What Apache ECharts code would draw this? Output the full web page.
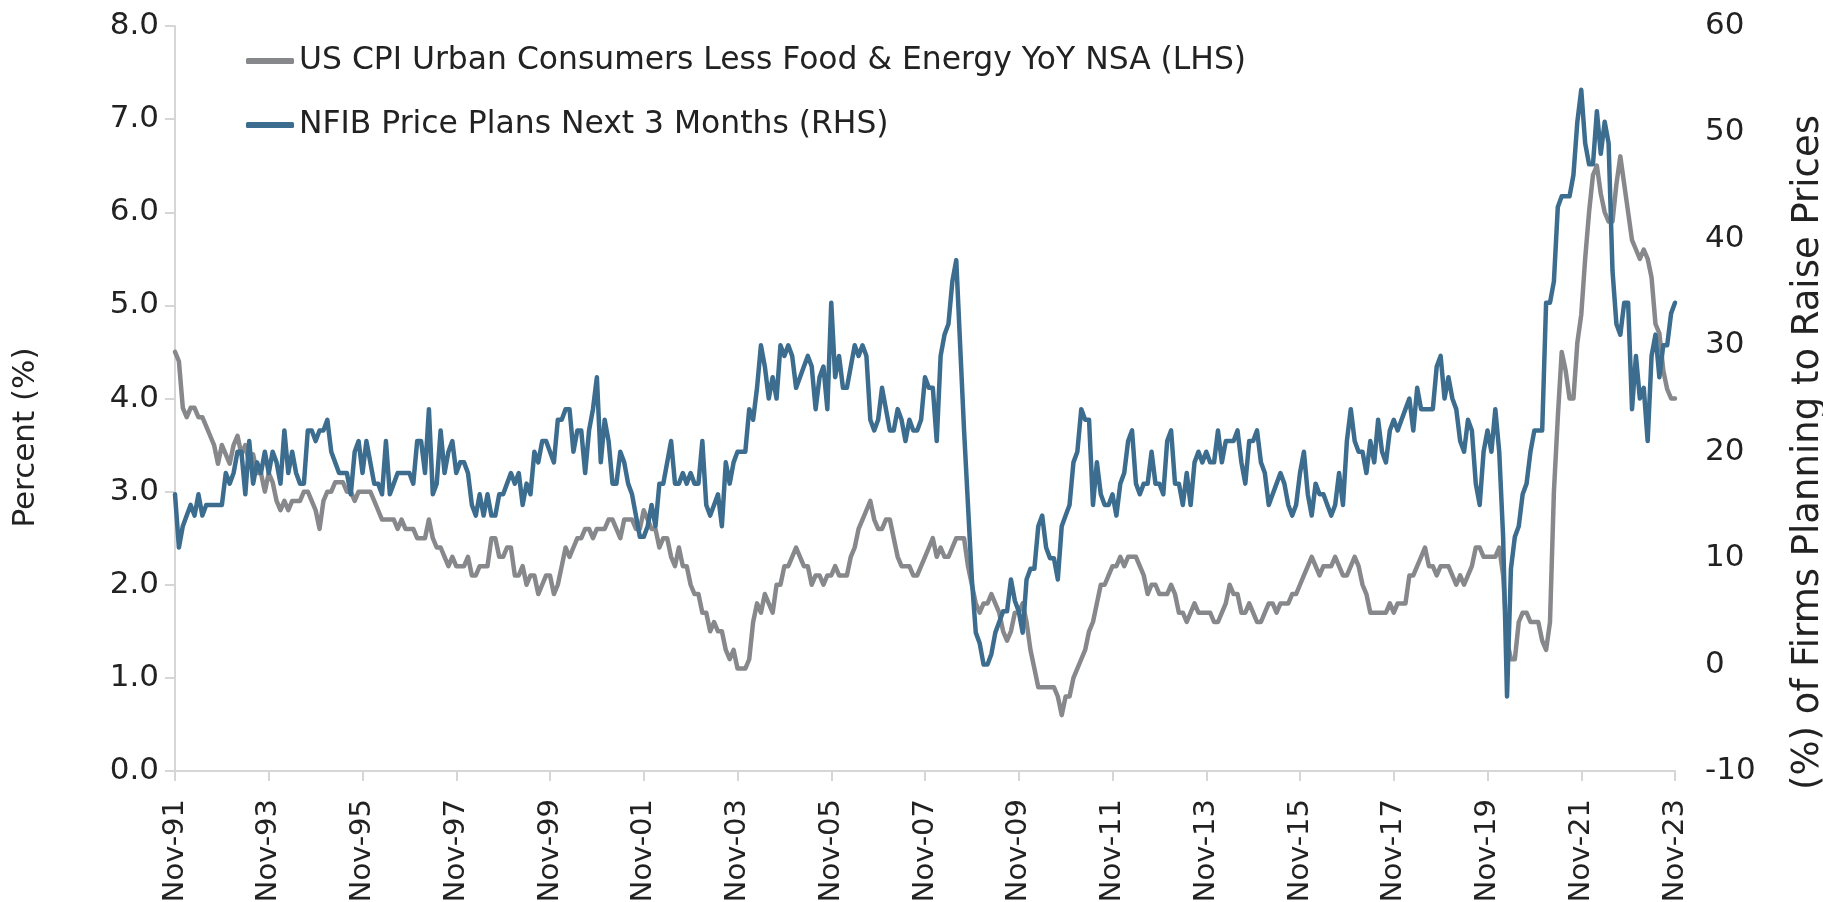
<!DOCTYPE html>
<html>
<head>
<meta charset="utf-8">
<script src="https://cdn.jsdelivr.net/npm/echarts@6/dist/echarts.min.js"></script>
<style>
html, body { margin: 0; padding: 0; background: #fff; }
#main { width: 1823px; height: 902px; }
</style>
</head>
<body>
<div id="main"></div>
<script>
// monthly, Nov-91 .. Nov-23
var cpiName = 'US CPI Urban Consumers Less Food & Energy YoY NSA (LHS)';
var nfibName = 'NFIB Price Plans Next 3 Months (RHS)';

// core CPI YoY %, Nov-91, Dec-91 then calendar years
var cpiCore = [
    4.5, 4.4,
    3.9, 3.8, 3.9, 3.9, 3.8, 3.8, 3.7, 3.6, 3.5, 3.3, 3.5, 3.4,
    3.3, 3.5, 3.6, 3.4, 3.5, 3.3, 3.4, 3.2, 3.2, 3.0, 3.2, 3.1,
    2.9, 2.8, 2.9, 2.8, 2.9, 2.9, 2.9, 3.0, 3.0, 2.9, 2.8, 2.6,
    2.9, 3.0, 3.0, 3.1, 3.1, 3.1, 3.0, 3.0, 2.9, 3.0, 3.0, 3.0,
    3.0, 2.9, 2.8, 2.7, 2.7, 2.7, 2.7, 2.6, 2.7, 2.6, 2.6, 2.6,
    2.5, 2.5, 2.5, 2.7, 2.5, 2.4, 2.4, 2.3, 2.2, 2.3, 2.2, 2.2,
    2.2, 2.3, 2.1, 2.1, 2.2, 2.2, 2.2, 2.5, 2.5, 2.3, 2.3, 2.4,
    2.4, 2.1, 2.1, 2.2, 2.0, 2.1, 2.1, 1.9, 2.0, 2.1, 2.1, 1.9,
    2.0, 2.2, 2.4, 2.3, 2.4, 2.5, 2.5, 2.6, 2.6, 2.5, 2.6, 2.6,
    2.6, 2.7, 2.7, 2.6, 2.5, 2.7, 2.7, 2.7, 2.6, 2.6, 2.8, 2.7,
    2.6, 2.6, 2.4, 2.5, 2.5, 2.3, 2.2, 2.4, 2.2, 2.2, 2.0, 1.9,
    1.9, 1.7, 1.7, 1.5, 1.6, 1.5, 1.5, 1.3, 1.2, 1.3, 1.1, 1.1,
    1.1, 1.2, 1.6, 1.8, 1.7, 1.9, 1.8, 1.7, 2.0, 2.0, 2.2, 2.2,
    2.3, 2.4, 2.3, 2.2, 2.2, 2.0, 2.1, 2.1, 2.0, 2.1, 2.1, 2.2,
    2.1, 2.1, 2.1, 2.3, 2.4, 2.6, 2.7, 2.8, 2.9, 2.7, 2.6, 2.6,
    2.7, 2.7, 2.5, 2.3, 2.2, 2.2, 2.2, 2.1, 2.1, 2.2, 2.3, 2.4,
    2.5, 2.3, 2.4, 2.3, 2.3, 2.4, 2.5, 2.5, 2.5, 2.2, 2.0, 1.8,
    1.7, 1.8, 1.8, 1.9, 1.8, 1.7, 1.5, 1.4, 1.5, 1.7, 1.7, 1.8,
    1.6, 1.3, 1.1, 0.9, 0.9, 0.9, 0.9, 0.9, 0.8, 0.6, 0.8, 0.8,
    1.0, 1.1, 1.2, 1.3, 1.5, 1.6, 1.8, 2.0, 2.0, 2.1, 2.2, 2.2,
    2.3, 2.2, 2.3, 2.3, 2.3, 2.2, 2.1, 1.9, 2.0, 2.0, 1.9, 1.9,
    1.9, 2.0, 1.9, 1.7, 1.7, 1.6, 1.7, 1.8, 1.7, 1.7, 1.7, 1.7,
    1.6, 1.6, 1.7, 1.8, 2.0, 1.9, 1.9, 1.7, 1.7, 1.8, 1.7, 1.6,
    1.6, 1.7, 1.8, 1.8, 1.7, 1.8, 1.8, 1.8, 1.9, 1.9, 2.0, 2.1,
    2.2, 2.3, 2.2, 2.1, 2.2, 2.2, 2.2, 2.3, 2.2, 2.1, 2.1, 2.2,
    2.3, 2.2, 2.0, 1.9, 1.7, 1.7, 1.7, 1.7, 1.7, 1.8, 1.7, 1.8,
    1.8, 1.8, 2.1, 2.1, 2.2, 2.3, 2.4, 2.2, 2.2, 2.1, 2.2, 2.2,
    2.2, 2.1, 2.0, 2.1, 2.0, 2.1, 2.2, 2.4, 2.4, 2.3, 2.3, 2.3,
    2.3, 2.4, 2.1, 1.4, 1.2, 1.2, 1.6, 1.7, 1.7, 1.6, 1.6, 1.6,
    1.4, 1.3, 1.6, 3.0, 3.8, 4.5, 4.3, 4.0, 4.0, 4.6, 4.9, 5.5,
    6.0, 6.4, 6.5, 6.2, 6.0, 5.9, 5.9, 6.3, 6.6, 6.3, 6.0, 5.7,
    5.6, 5.5, 5.6, 5.5, 5.3, 4.8, 4.7, 4.3, 4.1, 4.0, 4.0
];

// net % of firms planning to raise prices, 12 per row from Nov-91
var nfibPlans = [
    16, 11, 13, 14, 15, 14, 16, 14, 15, 15, 15, 15,
    15, 18, 17, 18, 20, 20, 16, 21, 17, 19, 18, 20,
    18, 20, 19, 17, 22, 18, 20, 18, 17, 17, 22, 22,
    21, 22, 22, 23, 20, 19, 18, 18, 18, 16, 20, 21,
    18, 21, 19, 17, 17, 16, 21, 16, 17, 18, 18, 18,
    18, 17, 21, 21, 18, 24, 16, 17, 22, 18, 20, 21,
    18, 19, 19, 18, 15, 14, 16, 14, 16, 14, 14, 16,
    16, 17, 18, 17, 18, 15, 17, 16, 20, 19, 21, 21,
    20, 19, 23, 23, 24, 24, 20, 22, 22, 18, 22, 24,
    27, 19, 23, 21, 17, 17, 20, 19, 17, 16, 14, 12,
    12, 13, 15, 13, 17, 17, 19, 21, 17, 17, 18, 17,
    18, 17, 17, 21, 15, 14, 15, 16, 13, 19, 17, 19,
    20, 20, 20, 24, 23, 26, 30, 28, 25, 27, 25, 30,
    29, 30, 29, 26, 27, 28, 29, 28, 24, 27, 28, 24,
    34, 27, 29, 26, 26, 28, 30, 29, 30, 29, 23, 22,
    23, 26, 24, 22, 22, 24, 23, 21, 23, 22, 22, 23,
    27, 26, 26, 21, 29, 31, 32, 36, 38, 30, 22, 15,
    8, 3, 2, 0, 0, 1, 3, 4, 5, 5, 8, 6,
    5, 3, 8, 9, 9, 13, 14, 11, 10, 10, 8, 13,
    14, 15, 19, 20, 24, 23, 23, 15, 19, 16, 15, 15,
    16, 14, 17, 18, 21, 22, 17, 16, 17, 17, 20, 17,
    17, 16, 21, 22, 17, 17, 15, 18, 15, 19, 20, 19,
    20, 19, 19, 22, 19, 21, 21, 21, 22, 19, 17, 21,
    21, 22, 19, 18, 15, 16, 17, 18, 17, 15, 14, 15,
    18, 20, 16, 14, 17, 16, 16, 15, 14, 15, 18, 15,
    21, 24, 21, 20, 20, 18, 21, 19, 23, 20, 19, 22,
    23, 22, 23, 24, 25, 22, 26, 24, 24, 24, 24, 28,
    29, 25, 27, 25, 24, 21, 20, 23, 22, 17, 15, 20,
    22, 20, 24, 20, 12, -3, 9, 12, 13, 16, 17, 20,
    22, 22, 22, 34, 34, 36, 43, 44, 44, 44, 46, 51,
    54, 49, 47, 47, 52, 48, 51, 49, 37, 32, 31, 34,
    34, 24, 29, 25, 26, 21, 29, 31, 27, 30, 30, 33, 34
];

var monthNames = ['Jan', 'Feb', 'Mar', 'Apr', 'May', 'Jun', 'Jul', 'Aug', 'Sep', 'Oct', 'Nov', 'Dec'];
var months = [];
for (var i = 0; i < cpiCore.length; i++) {
    var k = 10 + i;
    months.push(monthNames[k % 12] + '-' + String(1991 + Math.floor(k / 12)).slice(2));
}

var font = 'DejaVu Sans';
var textColor = '#222';
var axisColor = '#d6d6d6';

var myChart = echarts.init(document.getElementById('main'));
myChart.setOption({
    animation: false,
    backgroundColor: '#fff',
    textStyle: { fontFamily: font },
    grid: {
        left: 175,
        right: 148,
        top: 26,
        bottom: 131,
        outerBoundsMode: 'none'
    },
    legend: {
        orient: 'vertical',
        left: 241,
        top: 38,
        itemWidth: 48,
        itemHeight: 6,
        itemGap: 28,
        icon: 'roundRect',
        textStyle: { fontSize: 31.4, color: textColor, fontFamily: font, lineHeight: 36 },
        data: [cpiName, nfibName]
    },
    xAxis: {
        type: 'category',
        boundaryGap: false,
        data: months,
        axisLine: { lineStyle: { color: axisColor, width: 2 } },
        axisTick: {
            show: true,
            interval: 23,
            length: 10,
            lineStyle: { color: axisColor, width: 2 }
        },
        axisLabel: {
            interval: 23,
            rotate: 90,
            margin: 28,
            fontSize: 29,
            color: textColor,
            fontFamily: font
        },
        splitLine: { show: false }
    },
    yAxis: [{
        type: 'value',
        position: 'left',
        min: 0,
        max: 8,
        interval: 1,
        name: 'Percent (%)',
        nameLocation: 'middle',
        nameGap: 134,
        nameTextStyle: { fontSize: 31, color: textColor, fontFamily: font, padding: [0, 78, 0, 0] },
        axisLine: { show: true, lineStyle: { color: axisColor, width: 2 } },
        axisTick: { show: true, length: 10, lineStyle: { color: axisColor, width: 2 } },
        axisLabel: {
            fontSize: 31,
            color: textColor,
            fontFamily: font,
            margin: 16,
            formatter: function (v) { return v.toFixed(1); }
        },
        splitLine: { show: false }
    }, {
        type: 'value',
        position: 'right',
        min: -10,
        max: 60,
        interval: 10,
        name: '(%) of Firms Planning to Raise Prices',
        nameLocation: 'middle',
        nameGap: 115,
        nameRotate: 90,
        nameTextStyle: { fontSize: 37, color: textColor, fontFamily: font, padding: [0, 108, 0, 0] },
        axisLine: { show: false },
        axisTick: { show: false },
        axisLabel: { fontSize: 31, color: textColor, fontFamily: font, margin: 30 },
        splitLine: { show: false }
    }],
    series: [{
        name: cpiName,
        type: 'line',
        yAxisIndex: 0,
        symbol: 'none',
        itemStyle: { color: '#87888b' },
        lineStyle: { color: '#87888b', width: 4.5, cap: 'round', join: 'round' },
        data: cpiCore
    }, {
        name: nfibName,
        type: 'line',
        yAxisIndex: 1,
        symbol: 'none',
        itemStyle: { color: '#3c6d8f' },
        lineStyle: { color: '#3c6d8f', width: 4.5, cap: 'round', join: 'round' },
        data: nfibPlans
    }]
});
</script>
</body>
</html>
